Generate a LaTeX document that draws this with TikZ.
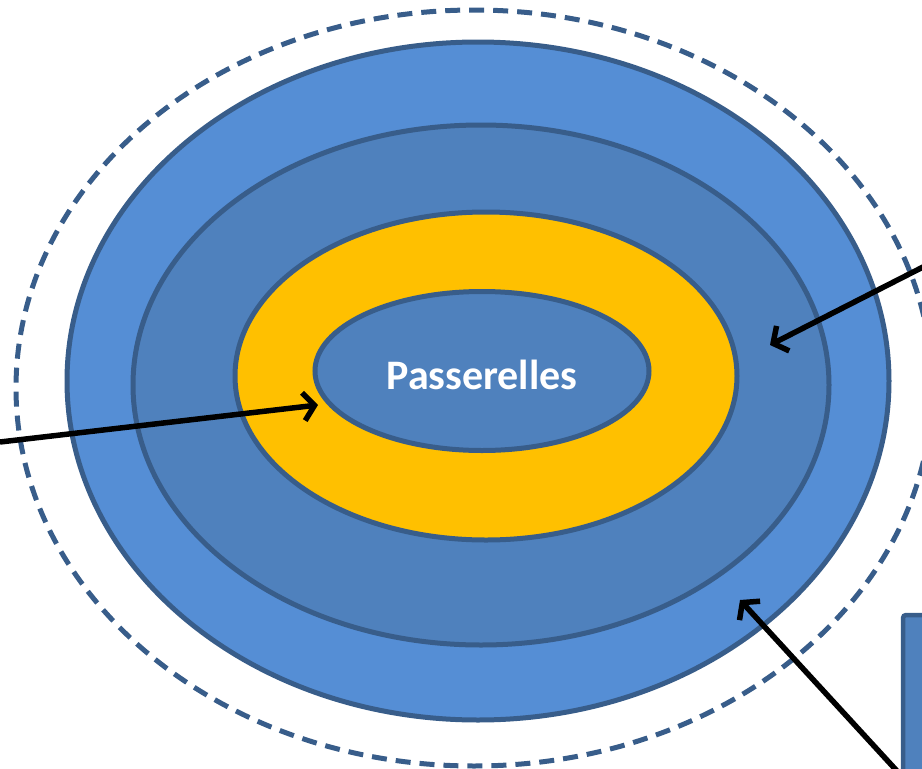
\documentclass[tikz,border=0pt]{standalone}
\usepackage{fontspec}
\setmainfont{Carlito}
\usetikzlibrary{shapes.geometric,arrows.meta}
\definecolor{ringlight}{HTML}{558ED5}
\definecolor{ringdark}{HTML}{4F81BD}
\definecolor{ringyellow}{HTML}{FFC000}
\definecolor{ringline}{HTML}{385D8A}
\begin{document}
\begin{tikzpicture}[x=1pt,y=-1pt,
  ring/.style={ellipse,draw=ringline,line width=5pt,inner sep=0pt},
  pointer/.style={draw=black,line width=5.5pt,-{Straight Barb[length=11pt,width=28pt,line width=5.5pt]}}]
\useasboundingbox (0,0) rectangle (922,769);
\clip (0,0) rectangle (922,769);
\node[ellipse,draw=ringline,dash pattern=on 15pt off 9pt,line width=5pt,minimum width=916pt,minimum height=756pt] (halo) at (474,388) {};
\node[ring,fill=ringlight,minimum width=822pt,minimum height=678pt] (outer) at (478,381) {};
\node[ring,fill=ringdark,minimum width=696pt,minimum height=520pt] (middle) at (481,385) {};
\node[ring,fill=ringyellow,minimum width=502pt,minimum height=328pt] (yellow) at (486,376) {};
\node[ring,fill=ringdark,minimum width=334pt,minimum height=159pt] (inner) at (482,371) {};
\node[text=white,font=\bfseries\fontsize{42}{50}\selectfont,inner sep=0pt] (label) at (482,375) {Passerelles};
\draw[draw=ringline,fill=ringdark,line width=4.5pt,rounded corners=3pt] (903,615) rectangle (960,800);
\coordinate (lstart) at (0,442);
\coordinate (ltip) at (318,405);
\coordinate (rstart) at (925,266);
\coordinate (rtip) at (770,345);
\coordinate (bstart) at (897,771);
\coordinate (btip) at (740,600);
\draw[pointer] (lstart) -- (ltip);
\draw[pointer] (rstart) -- (rtip);
\draw[pointer] (bstart) -- (btip);
\end{tikzpicture}
\end{document}
